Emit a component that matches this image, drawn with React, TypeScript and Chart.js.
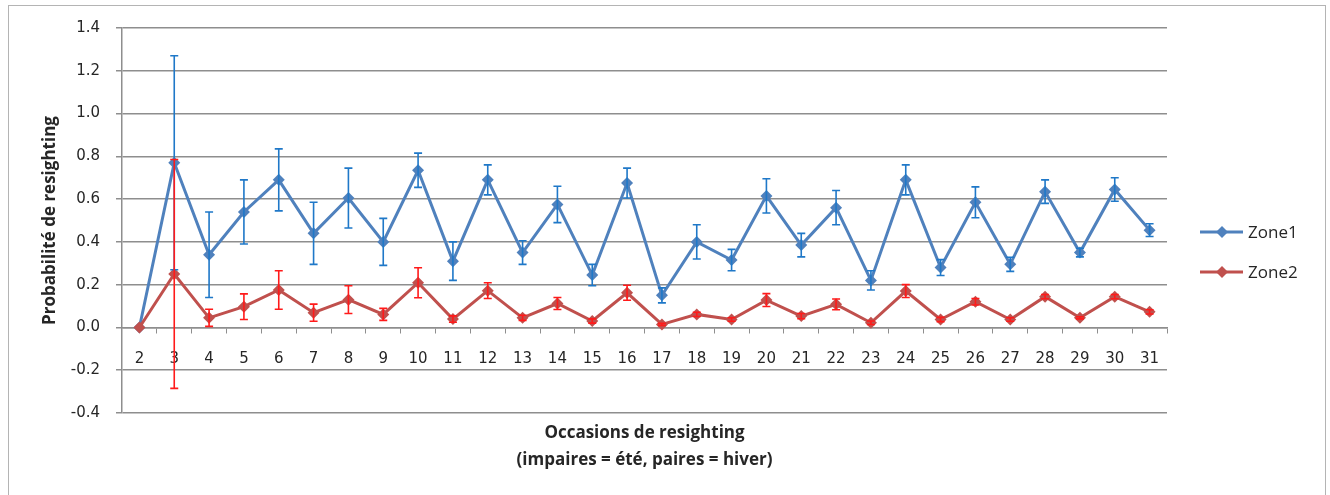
import React, { useEffect, useRef } from 'react';
import { Chart, registerables } from 'chart.js';

Chart.register(...registerables);

const occasions = ['2','3','4','5','6','7','8','9','10','11','12','13','14','15','16','17','18','19','20','21','22','23','24','25','26','27','28','29','30','31'];

const zone1 = [0, 0.77, 0.34, 0.54, 0.69, 0.44, 0.605, 0.40, 0.735, 0.31, 0.69, 0.35, 0.575, 0.245, 0.675, 0.15, 0.40, 0.315, 0.615, 0.385, 0.56, 0.22, 0.69, 0.28, 0.585, 0.295, 0.635, 0.35, 0.645, 0.455];
const zone1Err = [0, 0.50, 0.20, 0.15, 0.145, 0.145, 0.14, 0.11, 0.08, 0.09, 0.07, 0.055, 0.085, 0.05, 0.07, 0.035, 0.08, 0.05, 0.08, 0.055, 0.08, 0.045, 0.07, 0.037, 0.072, 0.033, 0.055, 0.02, 0.055, 0.03];

const zone2 = [0, 0.25, 0.045, 0.097, 0.175, 0.069, 0.13, 0.061, 0.209, 0.039, 0.172, 0.045, 0.112, 0.03, 0.162, 0.014, 0.061, 0.037, 0.128, 0.053, 0.108, 0.022, 0.17, 0.037, 0.12, 0.037, 0.144, 0.045, 0.144, 0.073];
const zone2Err = [0, 0.535, 0.04, 0.06, 0.09, 0.04, 0.065, 0.028, 0.07, 0.015, 0.037, 0.012, 0.028, 0.01, 0.035, 0.005, 0.01, 0.008, 0.03, 0.012, 0.025, 0.008, 0.03, 0.01, 0.015, 0.008, 0.01, 0.005, 0.01, 0.01];

const seriesNames = ['Zone1', 'Zone2'];
const lineColors = ['#4F81BD', '#C0504D'];
const errorColors = ['#1F78C8', '#FF1A1A'];

const yMin = -0.4;
const yMax = 1.4;
const yStep = 0.2;

const xTitleLines = ['Occasions de resighting', '(impaires = été, paires = hiver)'];
const yTitle = 'Probabilité de resighting';

const GRID = '#8E8E8E';
const TEXT = '#262626';

const framePlugin = {
  id: 'frame',
  beforeDraw(chart: any) {
    const { ctx, width, height } = chart;
    ctx.save();
    ctx.fillStyle = '#ffffff';
    ctx.fillRect(0, 0, width, height);
    ctx.strokeStyle = '#B4B4B4';
    ctx.lineWidth = 1;
    ctx.strokeRect(8.5, 5.5, 1317, height + 10);
    ctx.restore();
  },
};

const errorBarPlugin = {
  id: 'errorBars',
  afterDatasetsDraw(chart: any) {
    const { ctx, scales } = chart;
    const x = scales.x;
    const y = scales.y;
    const errs = [zone1Err, zone2Err];
    chart.data.datasets.forEach((ds: any, i: number) => {
      const e = errs[i];
      ctx.save();
      ctx.strokeStyle = errorColors[i];
      ctx.lineWidth = 1.6;
      ds.data.forEach((v: number, j: number) => {
        const err = e[j];
        if (!err) return;
        const px = x.getPixelForValue(j);
        const top = y.getPixelForValue(v + err);
        const bot = y.getPixelForValue(v - err);
        ctx.beginPath();
        ctx.moveTo(px, top);
        ctx.lineTo(px, bot);
        ctx.moveTo(px - 4, top);
        ctx.lineTo(px + 4, top);
        ctx.moveTo(px - 4, bot);
        ctx.lineTo(px + 4, bot);
        ctx.stroke();
      });
      ctx.restore();
    });
  },
};

const annotationsPlugin = {
  id: 'annotations',
  afterDraw(chart: any) {
    const { ctx, chartArea } = chart;
    ctx.save();
    // x axis title
    ctx.fillStyle = TEXT;
    ctx.font = 'bold 17px "Open Sans"';
    ctx.textAlign = 'center';
    ctx.textBaseline = 'middle';
    const cx = (chartArea.left + chartArea.right) / 2;
    ctx.fillText(xTitleLines[0], cx, 433);
    ctx.fillText(xTitleLines[1], cx, 460);
    // legend
    const legendY = [232, 272];
    seriesNames.forEach((name, i) => {
      const yy = legendY[i];
      ctx.strokeStyle = lineColors[i];
      ctx.lineWidth = 3;
      ctx.beginPath();
      ctx.moveTo(1200, yy);
      ctx.lineTo(1243, yy);
      ctx.stroke();
      ctx.fillStyle = lineColors[i];
      ctx.beginPath();
      ctx.moveTo(1222, yy - 6);
      ctx.lineTo(1228, yy);
      ctx.lineTo(1222, yy + 6);
      ctx.lineTo(1216, yy);
      ctx.closePath();
      ctx.fill();
      ctx.fillStyle = TEXT;
      ctx.font = '17px "Open Sans"';
      ctx.textAlign = 'left';
      ctx.fillText(name, 1248, yy + 1);
    });
    ctx.restore();
  },
};

export default function App() {
  const canvasRef = useRef<HTMLCanvasElement | null>(null);

  useEffect(() => {
    if (!canvasRef.current) return;
    const chart = new Chart(canvasRef.current, {
      type: 'line',
      data: {
        labels: occasions,
        datasets: [
          {
            label: seriesNames[0],
            data: zone1,
            borderColor: lineColors[0],
            backgroundColor: lineColors[0],
            borderWidth: 3,
            pointStyle: 'rectRot',
            pointRadius: 6,
            pointBorderWidth: 0,
            pointBackgroundColor: lineColors[0],
            tension: 0,
            order: 1,
          },
          {
            label: seriesNames[1],
            data: zone2,
            borderColor: lineColors[1],
            backgroundColor: lineColors[1],
            borderWidth: 3,
            pointStyle: 'rectRot',
            pointRadius: 6,
            pointBorderWidth: 0,
            pointBackgroundColor: lineColors[1],
            tension: 0,
            order: 0,
          },
        ],
      },
      options: {
        responsive: false,
        animation: false,
        events: [],
        layout: { padding: { left: 0, right: 163, top: 28, bottom: 82 } },
        plugins: {
          legend: { display: false },
          tooltip: { enabled: false },
          title: { display: false },
        },
        scales: {
          x: {
            type: 'category',
            position: { y: 0 } as any,
            offset: true,
            grid: {
              display: true,
              drawOnChartArea: false,
              drawTicks: true,
              tickLength: 5,
              offset: true,
              color: GRID,
            },
            border: { display: true, color: GRID, width: 1.5 },
            ticks: {
              color: TEXT,
              font: { family: '"DejaVu Sans"', size: 15 },
              padding: 18,
              maxRotation: 0,
              autoSkip: false,
            },
          },
          y: {
            type: 'linear',
            position: 'left',
            min: yMin,
            max: yMax,
            afterFit(scale: any) {
              scale.width = 122;
            },
            grid: {
              color: GRID,
              lineWidth: 1.5,
              drawTicks: true,
              tickLength: 6,
            },
            border: { display: true, color: GRID, width: 1.5 },
            ticks: {
              stepSize: yStep,
              color: TEXT,
              font: { family: '"DejaVu Sans"', size: 15 },
              padding: 16,
              callback: (v: any) => {
                const n = Math.abs(Number(v)) < 1e-9 ? 0 : Number(v);
                return n.toFixed(1);
              },
            },
            title: {
              display: true,
              text: yTitle,
              color: TEXT,
              font: { family: '"Open Sans"', size: 17, weight: 'bold' },
              padding: { top: 40, bottom: 0 },
            },
          },
        },
      },
      plugins: [framePlugin, errorBarPlugin, annotationsPlugin],
    } as any);
    return () => chart.destroy();
  }, []);

  return (
    <div style={{ position: 'absolute', left: 0, top: 0, width: 1330, height: 495 }}>
      <canvas ref={canvasRef} width={1330} height={495} style={{ display: 'block' }} />
    </div>
  );
}
